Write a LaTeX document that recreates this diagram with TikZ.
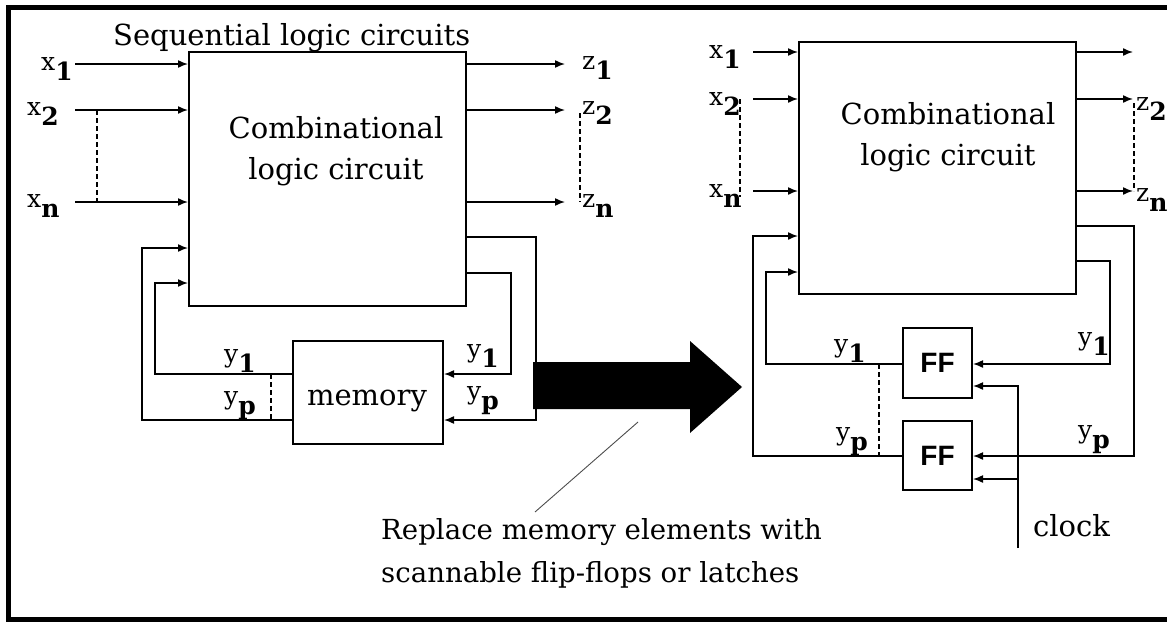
\documentclass[tikz,border=0pt]{standalone}
\usepackage{fontspec}
\setmainfont{DejaVu Serif}
\newfontfamily\ffsans{Liberation Sans}
\usetikzlibrary{arrows.meta,positioning}

% signal name with a lowered bold index
\newcommand{\sg}[2]{#1\raisebox{-.42em}{\bfseries #2}}

\tikzset{
  blk/.style={draw, line width=2pt, inner sep=0pt},
  wire/.style={line width=1.5pt},
  sig/.style={wire, -{Latex[length=10pt,width=8pt]}},
  bus/.style={line width=1.2pt, dash pattern=on 5pt off 3pt},
  lbl/.style={inner sep=0pt, anchor=base west, font=\fontsize{25}{25}\selectfont},
  txt/.style={font=\fontsize{29}{41}\selectfont, align=center},
  ffbox/.style={blk, font=\ffsans\bfseries\fontsize{28}{28}\selectfont, minimum width=69},
  pointer/.style={line width=0.9pt, gray!60!black},
}

\begin{document}
\begin{tikzpicture}[x=1pt,y=-1pt]
  \useasboundingbox (0,0) rectangle (1167,621);
  \draw[line width=5pt] (1172,7.5) -- (8.5,7.5) -- (8.5,619.5) -- (1172,619.5);

  % ---- sequential circuit with memory
  \node[txt, anchor=base west, inner sep=0pt] (title) at (113,45) {Sequential logic circuits};
  \node[blk, minimum width=277, minimum height=254] (cl1) at (327.5,179) {};
  \node[txt] (cl1t) at (336,151) {Combinational\\logic circuit};
  \node[blk, minimum width=150, minimum height=103] (mem) at (368,392.5) {};
  \node[txt] (memt) at (367,401) {memory};

  \foreach \n/\y/\ly in {1/64/69, 2/110/114, n/202/207} {
    \coordinate (xi\n) at (75,\y);
    \draw[sig] (xi\n) -- (xi\n -| cl1.west);
    \coordinate (zo\n) at (565,\y);
    \draw[sig] (zo\n -| cl1.east) -- (zo\n);
    \node[lbl] (zl\n) at (582,\ly) {\sg{z}{\n}};
  }
  \node[lbl] (xl1) at (41,70) {\sg{x}{1}};
  \node[lbl] (xl2) at (27,115) {\sg{x}{2}};
  \node[lbl] (xln) at (27,207) {\sg{x}{n}};
  \draw[bus] ([xshift=22pt]xi2) -- ([xshift=22pt]xin);
  \draw[bus] ([xshift=15pt,yshift=-3pt]zo2) -- ([xshift=15pt]zon);

  \coordinate (ry1) at (0,374);
  \coordinate (ryp) at (0,420);
  \coordinate (fo1) at (536,237);
  \coordinate (fo2) at (511,273);
  \coordinate (fi1) at (142,248);
  \coordinate (fi2) at (155,283);
  \draw[sig] (cl1.east |- fo1) -- (fo1) |- (mem.east |- ryp);
  \draw[sig] (cl1.east |- fo2) -- (fo2) |- (mem.east |- ry1);
  \draw[sig] (mem.west |- ryp) -| (fi1) -- (cl1.west |- fi1);
  \draw[sig] (mem.west |- ry1) -| (fi2) -- (cl1.west |- fi2);
  \coordinate (dl) at (271,0);
  \draw[bus] (dl |- ry1) -- (dl |- ryp);
  \node[lbl] (ya1) at (224,362) {\sg{y}{1}};
  \node[lbl] (yap) at (224,404) {\sg{y}{p}};
  \node[lbl] (yb1) at (467,357) {\sg{y}{1}};
  \node[lbl] (ybp) at (467,399) {\sg{y}{p}};

  % ---- replacement arrow and note
  \fill (533,362) -- (690,362) -- (690,341) -- (742,387) -- (690,433)
    -- (690,409) -- (533,409) -- cycle;
  \coordinate (tip) at (638,422);
  \coordinate (ptre) at (535,512);
  \draw[pointer] (tip) -- (ptre);
  \node[txt, font=\fontsize{27.6}{43}\selectfont, align=left, anchor=west, inner sep=0pt] (note) at (381,553)
    {Replace memory elements with\\scannable flip-flops or latches};

  % ---- circuit with flip-flops
  \node[blk, minimum width=277, minimum height=252] (cl2) at (937.5,168) {};
  \node[txt] (cl2t) at (948,137.5) {Combinational\\logic circuit};
  \node[ffbox, minimum height=70] (ff1) at (937.5,363) {FF};
  \node[ffbox, minimum height=69] (ff2) at (937.5,455.5) {FF};

  \foreach \n/\y/\ly in {1/52/58, 2/99/105, n/191/197} {
    \coordinate (xr\n) at (753,\y);
    \draw[sig] (xr\n) -- (xr\n -| cl2.west);
    \node[lbl] (xq\n) at (709,\ly) {\sg{x}{\n}};
    \coordinate (zr\n) at (1133,\y);
    \draw[sig] (zr\n -| cl2.east) -- (zr\n);
  }
  \node[lbl] (zq2) at (1136,110) {\sg{z}{2}};
  \node[lbl] (zqn) at (1136,201) {\sg{z}{n}};
  \draw[bus] ([xshift=-13pt]xr2) -- ([xshift=-13pt,yshift=-6pt]xrn);
  \draw[bus] ([xshift=1pt,yshift=-4pt]zr2) -- ([xshift=1pt]zrn);

  \coordinate (sy1) at (0,364);
  \coordinate (syp) at (0,456);
  \coordinate (go1) at (1134,226);
  \coordinate (go2) at (1110,261);
  \coordinate (gi1) at (753,236);
  \coordinate (gi2) at (766,272);
  \draw[sig] (cl2.east |- go1) -- (go1) |- (ff2.east |- syp);
  \draw[sig] (cl2.east |- go2) -- (go2) |- (ff1.east |- sy1);
  \draw[sig] (ff2.west |- syp) -| (gi1) -- (cl2.west |- gi1);
  \draw[sig] (ff1.west |- sy1) -| (gi2) -- (cl2.west |- gi2);
  \coordinate (dr) at (879,0);
  \draw[bus] (dr |- sy1) -- (dr |- syp);
  \node[lbl] (yc1) at (834,352) {\sg{y}{1}};
  \node[lbl] (ycp) at (836,440) {\sg{y}{p}};
  \node[lbl] (yd1) at (1078,345) {\sg{y}{1}};
  \node[lbl] (ydp) at (1078,438) {\sg{y}{p}};

  \coordinate (clk) at (1018,548);
  \coordinate (ck1) at (1018,386);
  \coordinate (ck2) at (1018,479);
  \draw[sig] (clk) -- (ck1) -- (ff1.east |- ck1);
  \draw[sig] (ck2) -- (ff2.east |- ck2);
  \node[txt, anchor=west, inner sep=0pt] (clkl) at (1033,526) {clock};
\end{tikzpicture}
\end{document}
